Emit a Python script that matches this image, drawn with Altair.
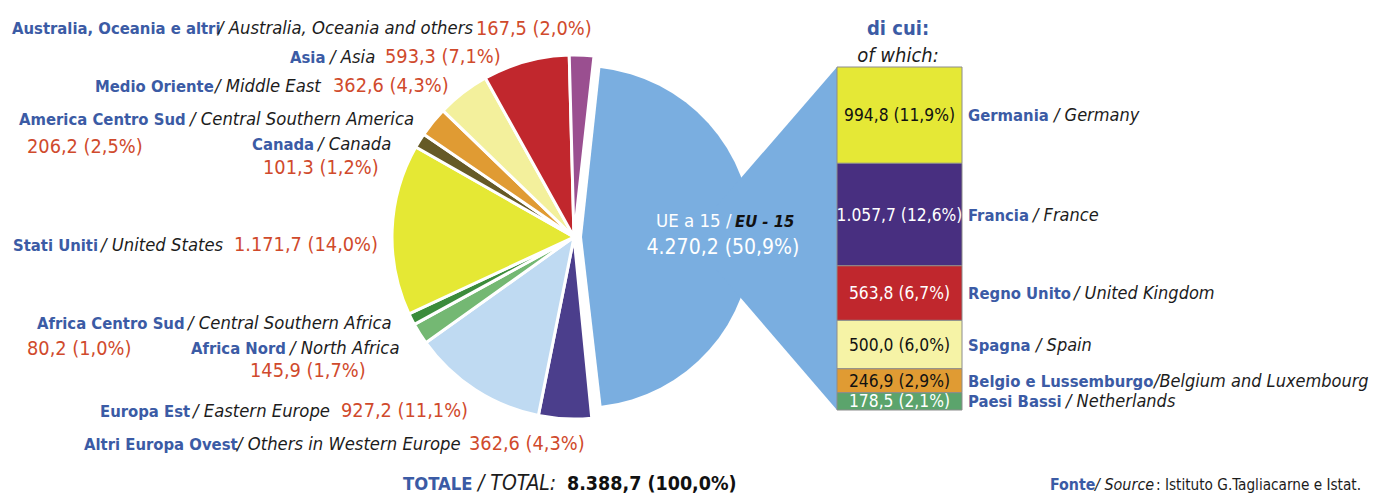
import math
import altair as alt
import pandas as pd

# ------------------------------------------------------------------ data
regions_it = ["Altri Europa Ovest", "Europa Est", "Africa Nord", "Africa Centro Sud",
              "Stati Uniti", "Canada", "America Centro Sud", "Medio Oriente", "Asia",
              "Australia, Oceania e altri"]
regions_en = ["Others in Western Europe", "Eastern Europe", "North Africa",
              "Central Southern Africa", "United States", "Canada",
              "Central Southern America", "Middle East", "Asia",
              "Australia, Oceania and others"]
region_values = [362.6, 927.2, 145.9, 80.2, 1171.7, 101.3, 206.2, 362.6, 593.3, 167.5]
region_shares = [4.3, 11.1, 1.7, 1.0, 14.0, 1.2, 2.5, 4.3, 7.1, 2.0]

eu_it = "UE a 15"
eu_en = "EU - 15"
eu_value = 4270.2
eu_share = 50.9

total_value = 8388.7
total_share = 100.0

countries_it = ["Germania", "Francia", "Regno Unito", "Spagna", "Belgio e Lussemburgo", "Paesi Bassi"]
countries_en = ["Germany", "France", "United Kingdom", "Spain", "Belgium and Luxembourg", "Netherlands"]
country_values = [994.8, 1057.7, 563.8, 500.0, 246.9, 178.5]
country_shares = [11.9, 12.6, 6.7, 6.0, 2.9, 2.1]

# ------------------------------------------------------------------ styles
region_colors = ["#4b3e8c", "#bfdaf2", "#74b873", "#3b8c3b", "#e5e834", "#665a26",
                 "#e09b33", "#f3f09c", "#c1272d", "#9a4f90"]
eu_color = "#7aaee0"
country_colors = ["#e5e836", "#482f80", "#c0272d", "#f6f3a6", "#e09b33", "#5ba46c"]
country_text_colors = ["#111111", "#ffffff", "#ffffff", "#111111", "#111111", "#ffffff"]

BLUE = "#3b5ba5"
RED = "#d04a2c"
DARK = "#1c1c1c"
FONT = "DejaVu Sans Condensed, DejaVu Sans, sans-serif"

# font sizes
S_NAME = 16.5
S_EN = 18.3
S_NUM = 19.8
S_BARVAL = 17.3
S_BAR_EN = 18

# ------------------------------------------------------------------ layout (page pixels)
W, H = 1362, 488
PIE_C = (574, 237)
PIE_R = 182
PIE_ANGLES = (174.4, 366.3)   # degrees, clockwise from 12 o'clock
EU_C = (582, 237)
EU_R = 170
EU_ANGLES = (6.2, 173.4)
BAR_X = (837, 962)
BAR_Y = (67, 410)
FUNNEL_TIP = (715, 208, 268)
COUNTRY_NAME_X = 968
COUNTRY_EN_X = [1054, 1033, 1074, 1036, 1154, 1066]
BOTTOM_Y = 490
# name_x, name_y, en_x, en_y, num_x, num_y
region_label_pos = [
    (84, 450, 237, 450, 469, 450),
    (100, 417, 193, 417, 341, 417),
    (191, 354, 290, 354, 250, 377),
    (37, 329, 188, 329, 27, 355),
    (13, 251, 101, 251, 234, 251),
    (252, 150, 318, 150, 263, 174),
    (19, 125, 190, 125, 27, 153),
    (95, 92, 215, 92, 333, 92),
    (290, 63, 330, 63, 385, 63),
    (12, 34, 218, 34, 476, 35),
]


def it_num(v):
    s = f"{v:,.1f}"
    return s.replace(",", "X").replace(".", ",").replace("X", ".")


def it_lab(v, p):
    return f"{it_num(v)} ({f'{p:.1f}'.replace('.', ',')}%)"


PX = alt.Scale(domain=[8, 8 + W], range=[0, W])
PY = alt.Scale(domain=[8, 8 + H], range=[0, H])


def txt(df, xf, yf, tf, size, color, weight="normal", style="normal",
        align="left", baseline="alphabetic"):
    enc = dict(x=alt.X(f"{xf}:Q", scale=PX, axis=None),
               y=alt.Y(f"{yf}:Q", scale=PY, axis=None),
               text=alt.Text(f"{tf}:N"))
    kw = dict(font=FONT, fontSize=size, fontWeight=weight, fontStyle=style,
              align=align, baseline=baseline, color=color)
    return alt.Chart(df).mark_text(**kw).encode(**enc)


# ------------------------------------------------------------------ tables
regions = pd.DataFrame({
    "idx": list(range(len(regions_it))),
    "it": regions_it,
    "en": ["/ " + e for e in regions_en],
    "value": region_values,
    "num": [it_lab(v, p) for v, p in zip(region_values, region_shares)],
    "col": region_colors,
    "nx": [p[0] for p in region_label_pos], "ny": [p[1] for p in region_label_pos],
    "ex": [p[2] for p in region_label_pos], "ey": [p[3] for p in region_label_pos],
    "vx": [p[4] for p in region_label_pos], "vy": [p[5] for p in region_label_pos],
})

eu = pd.DataFrame({"value": [eu_value]})

countries = pd.DataFrame({
    "idx": list(range(len(countries_it))),
    "it": countries_it,
    "en": [("/" if c.startswith("Belgium") else "/ ") + c for c in countries_en],
    "value": country_values,
    "num": [it_lab(v, p) for v, p in zip(country_values, country_shares)],
    "col": country_colors,
    "tc": country_text_colors,
    "nx": [COUNTRY_NAME_X] * len(countries_it),
    "ex": COUNTRY_EN_X,
    "cx": [(BAR_X[0] + BAR_X[1]) / 2] * len(countries_it),
})

funnel = pd.DataFrame({
    "fx": [FUNNEL_TIP[0], BAR_X[0]],
    "fy": [FUNNEL_TIP[1], BAR_Y[0]],
    "fy2": [FUNNEL_TIP[2], BAR_Y[1]],
})

# ------------------------------------------------------------------ marks
rad = math.radians
pie = alt.Chart(regions).mark_arc(radius=PIE_R, stroke="white", strokeWidth=3).encode(
    theta=alt.Theta("value:Q", stack=True,
                    scale=alt.Scale(domain=[0, sum(region_values)],
                                    range=[rad(PIE_ANGLES[0]), rad(PIE_ANGLES[1])])),
    order=alt.Order("idx:Q"),
    color=alt.Color("col:N", scale=None),
    x=alt.value(PIE_C[0] - 8), y=alt.value(PIE_C[1] - 8),
)

eu_wedge = alt.Chart(eu).mark_arc(radius=EU_R, color=eu_color).encode(
    theta=alt.Theta("value:Q", stack=True,
                    scale=alt.Scale(domain=[0, eu_value],
                                    range=[rad(EU_ANGLES[0]), rad(EU_ANGLES[1])])),
    x=alt.value(EU_C[0] - 8), y=alt.value(EU_C[1] - 8),
)

funnel_area = alt.Chart(funnel).mark_area(color=eu_color).encode(
    x=alt.X("fx:Q", scale=PX, axis=None),
    y=alt.Y("fy:Q", scale=PY, axis=None),
    y2="fy2:Q",
)

BY = alt.Scale(domain=[0, sum(country_values)], range=[BAR_Y[0] - 8, BAR_Y[1] - 8])
cbase = alt.Chart(countries).transform_window(
    cum="sum(value)", sort=[alt.SortField("idx")], frame=[None, 0]
).transform_calculate(start="datum.cum - datum.value", mid="datum.cum - datum.value / 2")

bars = cbase.mark_bar(stroke="#8c8c8c", strokeWidth=1).encode(
    x=alt.value(BAR_X[0] - 8), x2=alt.value(BAR_X[1] - 8),
    y=alt.Y("start:Q", scale=BY, axis=None), y2="cum:Q",
    color=alt.Color("col:N", scale=None),
)


def ctxt(xf, tf, size, color=None, colfield=None, weight="normal", style="normal",
         align="left", dy=0):
    enc = dict(x=alt.X(f"{xf}:Q", scale=PX, axis=None),
               y=alt.Y("mid:Q", scale=BY, axis=None),
               text=alt.Text(f"{tf}:N"))
    kw = dict(font=FONT, fontSize=size, fontWeight=weight, fontStyle=style,
              align=align, baseline="middle", dy=dy)
    if colfield:
        enc["color"] = alt.Color(f"{colfield}:N", scale=None)
    else:
        kw["color"] = color
    return cbase.mark_text(**kw).encode(**enc)


bar_vals = ctxt("cx", "num", S_BARVAL, colfield="tc", align="center", dy=1)
bar_names = ctxt("nx", "it", S_NAME, color=BLUE, weight="bold", dy=1)
bar_en = ctxt("ex", "en", S_BAR_EN, color=DARK, style="italic", dy=1)

r_names = txt(regions, "nx", "ny", "it", S_NAME, BLUE, weight="bold")
r_en = txt(regions, "ex", "ey", "en", S_EN, DARK, style="italic")
r_num = txt(regions, "vx", "vy", "num", S_NUM, RED)

# single texts
single = pd.DataFrame([
    dict(x=656, y=227, t=f"{eu_it} /", s=18.5, c="#ffffff", w="normal", st="normal", a="left"),
    dict(x=735, y=227, t=eu_en, s=16.5, c="#111111", w="bold", st="italic", a="left"),
    dict(x=723, y=254, t=it_lab(eu_value, eu_share), s=21, c="#ffffff", w="normal", st="normal", a="center"),
    dict(x=898, y=35, t="di cui:", s=20, c=BLUE, w="bold", st="normal", a="center"),
    dict(x=898, y=62, t="of which:", s=20, c=DARK, w="normal", st="italic", a="center"),
    dict(x=403, y=BOTTOM_Y, t="TOTALE", s=18.3, c=BLUE, w="bold", st="normal", a="left"),
    dict(x=478, y=BOTTOM_Y, t="/ TOTAL:", s=21, c=DARK, w="normal", st="italic", a="left"),
    dict(x=567, y=BOTTOM_Y, t=it_lab(total_value, total_share), s=19.5, c="#111111", w="bold", st="normal", a="left"),
    dict(x=1050, y=BOTTOM_Y, t="Fonte", s=15.8, c=BLUE, w="bold", st="normal", a="left"),
    dict(x=1095, y=BOTTOM_Y, t="/ Source", s=16, c=DARK, w="normal", st="italic", a="left"),
    dict(x=1156, y=BOTTOM_Y, t=": Istituto G.Tagliacarne e Istat.", s=15.2, c=DARK, w="normal", st="normal", a="left"),
])

single_layers = []
for _, r in single.iterrows():
    d = pd.DataFrame([r])
    single_layers.append(
        alt.Chart(d).mark_text(font=FONT, fontSize=float(r.s), fontWeight=r.w, fontStyle=r.st,
                               align=r.a, baseline="alphabetic", color=r.c).encode(
            x=alt.X("x:Q", scale=PX, axis=None),
            y=alt.Y("y:Q", scale=PY, axis=None),
            text="t:N",
        )
    )

chart = alt.layer(
    pie, eu_wedge, funnel_area, bars, bar_vals, bar_names, bar_en,
    r_names, r_en, r_num, *single_layers
).resolve_scale(
    theta="independent", x="independent", y="independent"
).properties(
    width=W, height=H, padding=0, autosize=alt.AutoSizeParams(type="none"),
    background="white"
).configure_view(stroke=None)

chart.save("out.html", embed_options={"renderer": "svg", "actions": False})
